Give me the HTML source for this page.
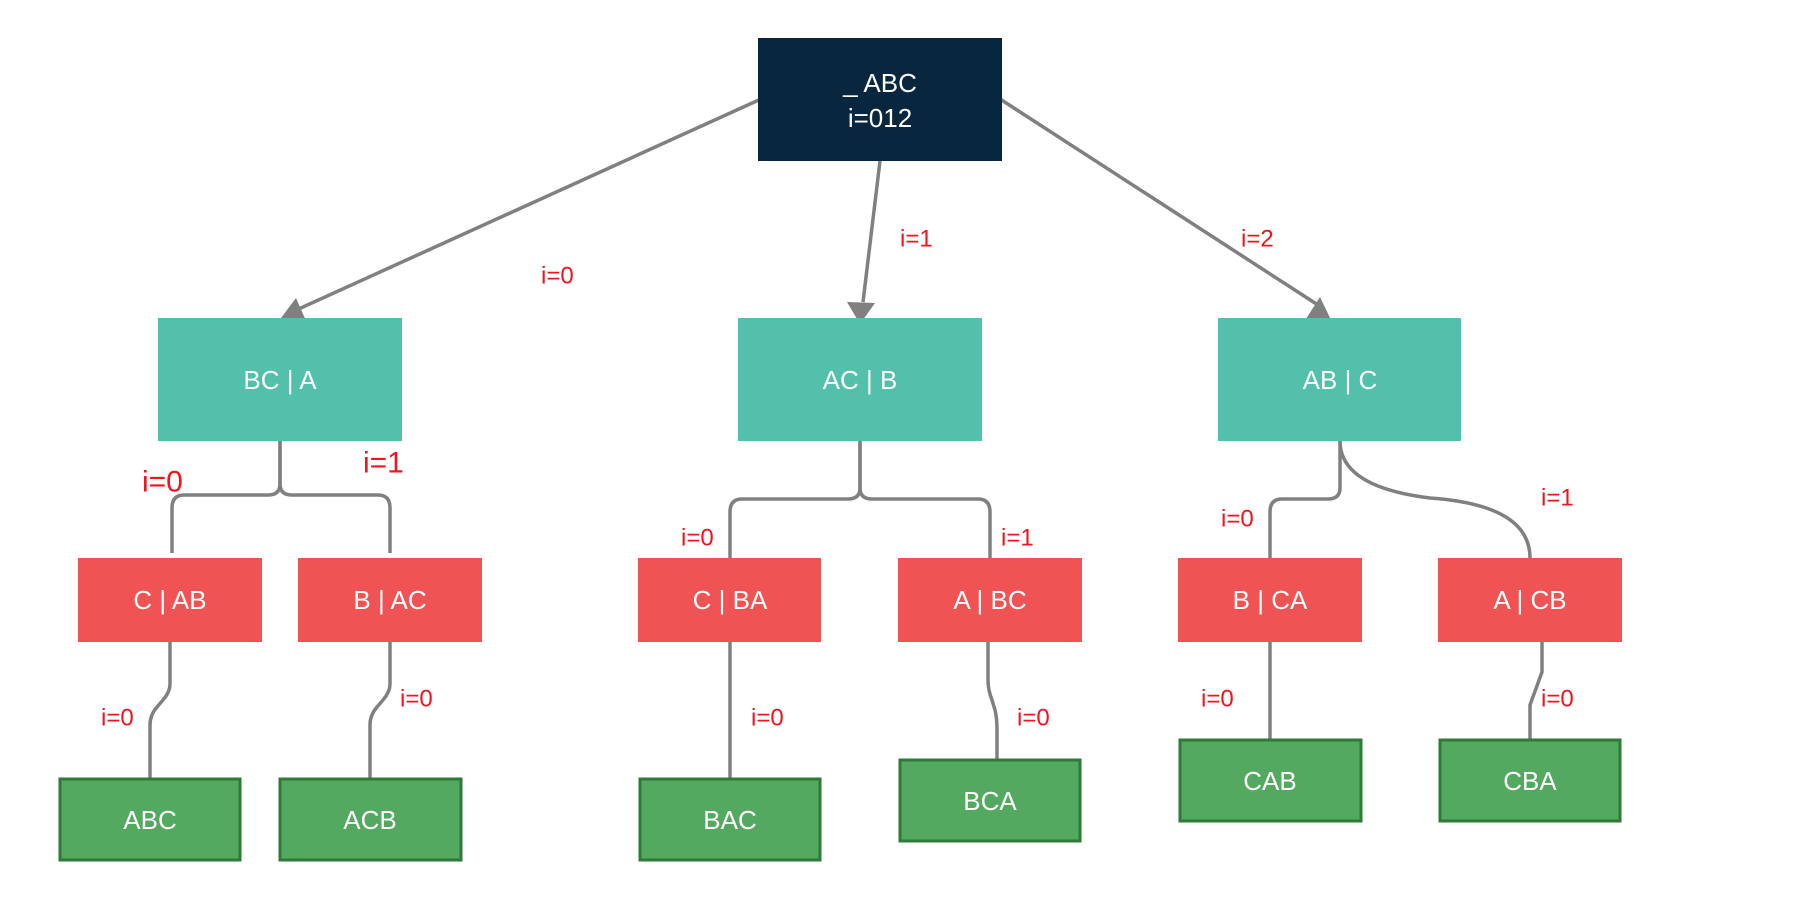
<!DOCTYPE html>
<html><head><meta charset="utf-8"><style>
html,body{margin:0;padding:0;background:#fff;}
svg{display:block;font-family:"Liberation Sans",sans-serif;}
.bt{fill:#fff;font-size:26px;text-anchor:middle;dominant-baseline:central;}
.lb{fill:#f0141e;font-size:24px;dominant-baseline:central;}
.c{fill:none;stroke:#808080;stroke-width:3.5;}
</style></head><body>
<svg width="1800" height="900" viewBox="0 0 1800 900">
<!-- connectors -->
<line class="c" x1="761" y1="99" x2="292" y2="312"/>
<polygon points="278,322 296,298 307,323" fill="#808080"/>
<line class="c" x1="880" y1="161" x2="863" y2="302"/>
<polygon points="860,324 847,302 875,303" fill="#808080"/>
<line class="c" x1="1000" y1="99" x2="1318" y2="305"/>
<polygon points="1332,322 1304,322 1320,297" fill="#808080"/>

<path class="c" d="M280 441 V484 Q280 495 268 495 H184 Q172 495 172 508 V553"/>
<path class="c" d="M280 441 V484 Q280 495 292 495 H378 Q390 495 390 508 V553"/>
<path class="c" d="M170 642 V684 Q170 692 163 700 L157 707 Q150 715 150 725 V778"/>
<path class="c" d="M390 642 V684 Q390 692 383 700 L377 707 Q370 715 370 725 V778"/>

<path class="c" d="M860 441 V488 Q860 499 848 499 H742 Q730 499 730 512 V558"/>
<path class="c" d="M860 441 V488 Q860 499 872 499 H978 Q990 499 990 512 V558"/>
<path class="c" d="M730 642 V778"/>
<path class="c" d="M988 642 V680 Q988 690 992 700 L995 710 Q997 718 997 730 V759"/>

<path class="c" d="M1340 441 V488 Q1340 499 1328 499 H1282 Q1270 499 1270 512 V558"/>
<path class="c" d="M1340 441 Q1340 487 1430 498 Q1530 505 1530 558"/>
<path class="c" d="M1270 642 V739"/>
<path class="c" d="M1542 642 V672 L1530 705 V739"/>

<!-- root -->
<rect x="758" y="38" width="244" height="123" fill="#08263e"/>
<text class="bt" x="880" y="83">_ ABC</text>
<text class="bt" x="880" y="118">i=012</text>

<!-- teal -->
<rect x="158" y="318" width="244" height="123" fill="#52c0aa"/>
<text class="bt" x="280" y="380">BC | A</text>
<rect x="738" y="318" width="244" height="123" fill="#52c0aa"/>
<text class="bt" x="860" y="380">AC | B</text>
<rect x="1218" y="318" width="243" height="123" fill="#52c0aa"/>
<text class="bt" x="1340" y="380">AB | C</text>

<!-- red -->
<g fill="#f05353">
<rect x="78" y="558" width="184" height="84"/>
<rect x="298" y="558" width="184" height="84"/>
<rect x="638" y="558" width="183" height="84"/>
<rect x="898" y="558" width="184" height="84"/>
<rect x="1178" y="558" width="184" height="84"/>
<rect x="1438" y="558" width="184" height="84"/>
</g>
<text class="bt" x="170" y="600">C | AB</text>
<text class="bt" x="390" y="600">B | AC</text>
<text class="bt" x="730" y="600">C | BA</text>
<text class="bt" x="990" y="600">A | BC</text>
<text class="bt" x="1270" y="600">B | CA</text>
<text class="bt" x="1530" y="600">A | CB</text>

<!-- green -->
<g fill="#53a95f" stroke="#2e7a36" stroke-width="3">
<rect x="60" y="779" width="180" height="81"/>
<rect x="280" y="779" width="181" height="81"/>
<rect x="640" y="779" width="180" height="81"/>
<rect x="900" y="760" width="180" height="81"/>
<rect x="1180" y="740" width="181" height="81"/>
<rect x="1440" y="740" width="180" height="81"/>
</g>
<text class="bt" x="150" y="820">ABC</text>
<text class="bt" x="370" y="820">ACB</text>
<text class="bt" x="730" y="820">BAC</text>
<text class="bt" x="990" y="801">BCA</text>
<text class="bt" x="1270" y="781">CAB</text>
<text class="bt" x="1530" y="781">CBA</text>

<!-- labels -->
<text class="lb" x="541" y="276">i=0</text>
<text class="lb" x="900" y="239">i=1</text>
<text class="lb" x="1241" y="239">i=2</text>
<text class="lb" x="142" y="482" style="font-size:30px">i=0</text>
<text class="lb" x="363" y="463" style="font-size:30px">i=1</text>
<text class="lb" x="101" y="718">i=0</text>
<text class="lb" x="400" y="699">i=0</text>
<text class="lb" x="681" y="538">i=0</text>
<text class="lb" x="1001" y="538">i=1</text>
<text class="lb" x="751" y="718">i=0</text>
<text class="lb" x="1017" y="718">i=0</text>
<text class="lb" x="1221" y="519">i=0</text>
<text class="lb" x="1541" y="498">i=1</text>
<text class="lb" x="1201" y="699">i=0</text>
<text class="lb" x="1541" y="699">i=0</text>
</svg>
</body></html>
